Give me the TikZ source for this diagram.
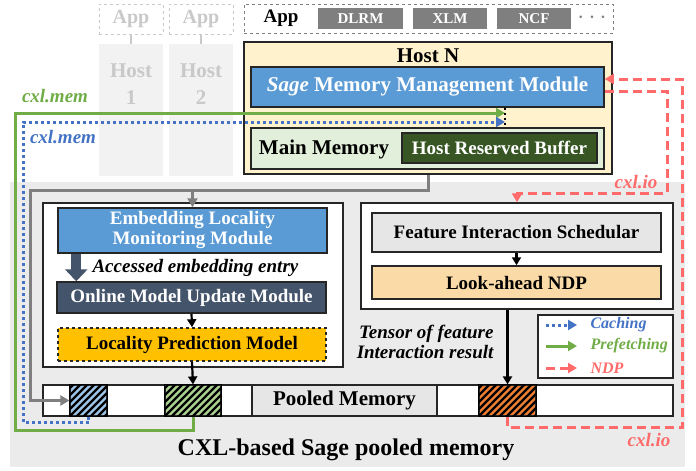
\documentclass[tikz,border=0pt]{standalone}
\usepackage{fontspec}
\setmainfont{Liberation Serif}
\usetikzlibrary{arrows.meta,calc}

\definecolor{bgpool}{HTML}{EBEBEB}
\definecolor{ghostfill}{HTML}{F2F2F2}
\definecolor{ghosttext}{HTML}{C9C9C9}
\definecolor{chipgray}{HTML}{7F7F7F}
\definecolor{hostfill}{HTML}{FFF2CC}
\definecolor{sageblue}{HTML}{5B9BD5}
\definecolor{memgreen}{HTML}{E2EFDA}
\definecolor{bufgreen}{HTML}{375623}
\definecolor{slate}{HTML}{44546A}
\definecolor{lpmgold}{HTML}{FFC000}
\definecolor{schedgray}{HTML}{E7E6E6}
\definecolor{ndpfill}{HTML}{FADBA8}
\definecolor{hatchblue}{HTML}{9DC3E6}
\definecolor{hatchgreen}{HTML}{A9D18E}
\definecolor{hatchorange}{HTML}{ED7D31}
\definecolor{prefgreen}{HTML}{70AD47}
\definecolor{cachblue}{HTML}{4472C4}
\definecolor{ndpred}{HTML}{FF6B6B}
\definecolor{linegray}{HTML}{7F7F7F}

% hatched block of the pooled memory
\newcommand{\hatchblk}[1]{%
  \begin{scope}
    \clip (#1.south west) rectangle (#1.north east);
    \foreach \k in {-35,-28,...,60}
      \draw[line width=2.3pt] ($(#1.south west)+(\k,0)$) -- ++(36,-36);
  \end{scope}
  \draw[line width=1.2pt] (#1.south west) rectangle (#1.north east);
}

\begin{document}
\begin{tikzpicture}[x=1pt, y=-1pt,
  box/.style={draw=black!85, line width=1.5pt, inner sep=0pt, align=center},
  wtxt/.style={text=white, font=\fontsize{19}{20}\selectfont\bfseries},
  btxt/.style={font=\fontsize{19}{20}\selectfont\bfseries},
  big/.style={font=\fontsize{21}{23}\selectfont\bfseries},
  ghost/.style={text=ghosttext, align=center, font=\fontsize{21}{27}\selectfont\bfseries},
  ghostbox/.style={draw=ghosttext, dashed, line width=1pt, minimum width=64pt, minimum height=30pt, inner sep=0pt},
  chip/.style={fill=chipgray, minimum height=21pt, inner sep=0pt, text=white, font=\fontsize{15}{16}\selectfont\bfseries},
  memblk/.style={draw=black!85, line width=1.2pt, minimum height=31pt, inner sep=0pt},
  tag/.style={font=\fontsize{19}{20}\selectfont\bfseries\itshape},
  legtxt/.style={anchor=west, font=\fontsize{16}{18}\selectfont\bfseries\itshape},
  feed/.style={draw=linegray, line width=3pt, -{Triangle[width=10pt,length=9pt]}},
  flow/.style={draw=black, line width=2.2pt, -{Triangle[width=9pt,length=8pt]}},
  prefetch/.style={draw=prefgreen, line width=3pt, -{Triangle[width=10pt,length=9pt]}},
  caching/.style={draw=cachblue, line width=3pt, dash pattern=on 3pt off 3pt, -{Triangle[width=10pt,length=9pt]}},
  ndp/.style={draw=ndpred, line width=3pt, dash pattern=on 9pt off 5pt, -{Triangle[width=10pt,length=9pt]}}]

\useasboundingbox (0,0) rectangle (696,471);

% === CXL pool background ===
\fill[bgpool] (10,182) rectangle (685,467);
\node[font=\fontsize{24}{26}\selectfont\bfseries] (poollbl) at (346,450) {CXL-based Sage pooled memory};

% === Host 1 and Host 2 ===
\foreach \i/\cx in {1/131,2/201}{
  \node[ghostbox, text=ghosttext, font=\fontsize{20}{22}\selectfont\bfseries] (app\i) at (\cx,19) {App};
  \node[fill=ghostfill, minimum width=64pt, minimum height=132pt, inner sep=0pt] (host\i) at (\cx,110) {};
  \node[ghost] (hostlbl\i) at (\cx,84) {Host\\\i};
  \draw[draw=ghosttext, line width=1.5pt] (app\i.south) -- (host\i.north);
}

% === Applications of Host N ===
\node[draw=chipgray, dashed, line width=1pt, minimum width=369pt, minimum height=29pt, inner sep=0pt] (apps) at (428.5,18.5) {};
\node[font=\fontsize{19}{20}\selectfont\bfseries] (applbl) at (281,18) {App};
\node[chip, minimum width=85pt] (dlrm) at (360.5,18.5) {DLRM};
\node[chip, minimum width=74pt] (xlm) at (450,18.5) {XLM};
\node[chip, minimum width=74pt] (ncf) at (534,18.5) {NCF};
\node[text=chipgray, font=\fontsize{24}{24}\selectfont\bfseries] (more) at (592,18) {$\cdots$};

% === Host N ===
\node[box, fill=hostfill, minimum width=368pt, minimum height=132pt] (hostN) at (428,108) {};
\node[big] (hostNlbl) at (428,56) {Host N};
\node[box, fill=sageblue, minimum width=353pt, minimum height=40pt, text=white, font=\fontsize{21}{23}\selectfont\bfseries]
  (mmm) at (427.5,87) {\textit{Sage} Memory Management Module};
\node[box, fill=memgreen, minimum width=353pt, minimum height=41pt] (mainmem) at (427.5,148.5) {};
\node[big] (mainmemlbl) at (324,149) {Main Memory};
\node[box, fill=bufgreen, minimum width=195pt, minimum height=30pt, wtxt] (hrb) at (499.5,148) {Host Reserved Buffer};
\coordinate (dockG) at (505,113);
\coordinate (dockB) at (505,122);

% === Locality side ===
\node[box, fill=white, minimum width=300pt, minimum height=164pt] (leftbox) at (193,285) {};
\node[box, fill=sageblue, minimum width=269pt, minimum height=45pt, wtxt] (elmm) at (192.5,230.5) {Embedding Locality\\Monitoring Module};
\node[box, fill=slate, minimum width=269pt, minimum height=31pt, wtxt] (omum) at (191.5,297.5) {Online Model Update Module};
\node[box, fill=lpmgold, dashed, minimum width=268pt, minimum height=33pt, btxt] (lpm) at (192,344.5) {Locality Prediction Model};
\node[tag, anchor=west] (access) at (89,268) {Accessed embedding entry};
\draw[draw=slate, line width=10pt, -{Triangle[width=22pt,length=12pt]}]
  ($(elmm.south west)+(19,0)$) -- ($(omum.north west)+(20,0)$);
\draw[flow] (omum.south) -- (lpm.north);

% === NDP side ===
\node[box, fill=white, minimum width=312pt, minimum height=106pt] (rightbox) at (517,256) {};
\node[box, fill=schedgray, minimum width=289pt, minimum height=39pt, btxt] (fis) at (516.5,232.5) {Feature Interaction Schedular};
\node[box, fill=ndpfill, minimum width=289pt, minimum height=33pt, btxt] (lan) at (516.5,282.5) {Look-ahead NDP};
\draw[flow] (fis.south) -- (lan.north);
\node[tag, anchor=east, align=right] (tensor) at (497,342) {Tensor of feature\\Interaction result};

% === Pooled memory ===
\node[memblk, fill=white, minimum width=630pt] (pool) at (358,400.5) {};
\node[memblk, fill=hatchblue, minimum width=37pt] (blueblk) at (88.5,400.5) {};
\node[memblk, fill=hatchgreen, minimum width=56pt] (greenblk) at (193,400.5) {};
\node[memblk, fill=schedgray, minimum width=185pt, big] (pooledmem) at (344.5,400.5) {Pooled Memory};
\node[memblk, fill=hatchorange, minimum width=57pt] (orangeblk) at (507.5,400.5) {};
\hatchblk{blueblk}
\hatchblk{greenblk}
\hatchblk{orangeblk}
\draw[flow] (lpm.south) -- (greenblk.north);
\draw[flow] (rightbox.south -| orangeblk.north) -- (orangeblk.north);

% === Legend ===
\node[box, fill=white, minimum width=135pt, minimum height=63pt] (legend) at (605.5,346.5) {};
\node[legtxt, text=cachblue] (legC) at (587,325) {Caching};
\node[legtxt, text=prefgreen] (legP) at (587,346) {Prefetching};
\node[legtxt, text=ndpred] (legN) at (587,368) {NDP};
\draw[caching] ($(legC.west)+(-41,0)$) -- ++(31,0);
\draw[prefetch] ($(legP.west)+(-41,0)$) -- ++(31,0);
\draw[ndp] ($(legN.west)+(-41,0)$) -- ++(31,0);

% === Connections ===
% main memory -> pool and monitoring module
\draw[feed] (hostN.south) -- ++(0,16) coordinate (fork) -| (30,400.5) -- (blueblk.west);
\draw[feed] (elmm.north |- fork) -- (elmm.north);
% cxl.mem prefetching and caching
\draw[prefetch] (greenblk.south) -- ++(0,14) -| (15,113) -- (dockG);
\draw[caching] (blueblk.south) -- ++(0,6) -| (23,122) -- (dockB);
\node[tag, text=prefgreen] (memG) at (55,96) {cxl.mem};
\node[tag, text=cachblue] (memB) at (63,137) {cxl.mem};
% cxl.io NDP
\draw[ndp] ($(mmm.east)+(0,4)$) -| (667,193) -| (rightbox.north);
\draw[ndp] (orangeblk.south) -- ++(0,11) -| (682,79) -- ($(mmm.east)+(0,-8)$);
\node[tag, text=ndpred] (ioA) at (636,182) {cxl.io};
\node[tag, text=ndpred] (ioB) at (649,440) {cxl.io};
% MMM <-> main memory
\draw[line width=2.5pt, dash pattern=on 2.5pt off 2.5pt] (mmm.south -| dockG) -- (mainmem.north -| dockG);
\end{tikzpicture}
\end{document}
